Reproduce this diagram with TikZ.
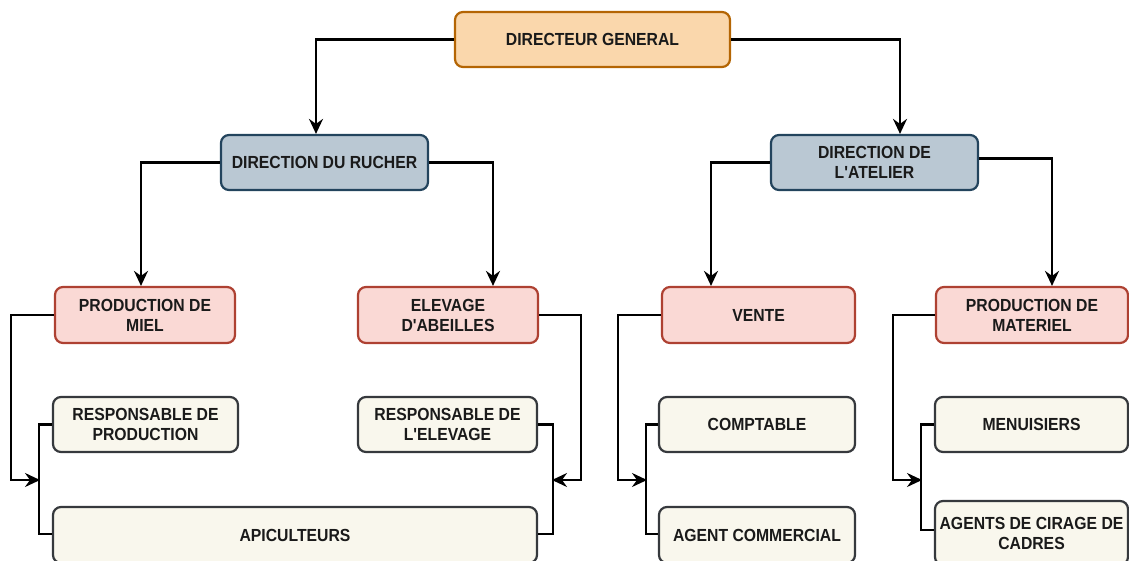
\documentclass[tikz,border=0pt]{standalone}
\usepackage{fontspec}
\setmainfont[FakeStretch=0.9, Ligatures=TeXOff]{Liberation Sans}
\usetikzlibrary{arrows.meta,calc}
\definecolor{dgfill}{HTML}{FAD7AC}\definecolor{dgdraw}{HTML}{B46504}
\definecolor{dirfill}{HTML}{BAC8D3}\definecolor{dirdraw}{HTML}{23445D}
\definecolor{redfill}{HTML}{FAD9D5}\definecolor{reddraw}{HTML}{AE4132}
\definecolor{begfill}{HTML}{F9F7ED}\definecolor{begdraw}{HTML}{36393D}
\definecolor{txt}{HTML}{1A1A1A}
\tikzset{
  box/.style={rounded corners=8pt, line width=2.2pt, align=center, inner sep=0pt,
    minimum height=55pt, text=txt, font=\fontsize{17.5}{20}\selectfont\bfseries},
  dgbox/.style={box, fill=dgfill, draw=dgdraw},
  dirbox/.style={box, fill=dirfill, draw=dirdraw},
  redbox/.style={box, fill=redfill, draw=reddraw},
  begbox/.style={box, fill=begfill, draw=begdraw},
  conn/.style={line width=2.2pt, draw=black, -{Stealth[length=15pt,width=14pt,inset=5pt]}},
  plain/.style={line width=2.2pt, draw=black}
}
\begin{document}
\begin{tikzpicture}[x=1pt,y=-1pt]
\clip (0,0) rectangle (1129,560);
\useasboundingbox (0,0) rectangle (1129,560);
% level 1
\node[dgbox, minimum width=275pt] (dg) at (592.5,39.5) {DIRECTEUR GENERAL};
% level 2
\node[dirbox, minimum width=207pt] (rucher) at (324.5,162.5) {DIRECTION DU RUCHER};
\node[dirbox, minimum width=207pt] (atelier) at (874.5,162.5) {DIRECTION DE\\L'ATELIER};
% level 3
\node[redbox, minimum width=180pt, minimum height=56pt] (miel) at (145,315) {PRODUCTION DE\\MIEL};
\node[redbox, minimum width=180pt, minimum height=56pt] (elevage) at (448,315) {ELEVAGE\\D'ABEILLES};
\node[redbox, minimum width=193pt, minimum height=56pt] (vente) at (758.5,315) {VENTE};
\node[redbox, minimum width=192pt, minimum height=56pt] (materiel) at (1032,315) {PRODUCTION DE\\MATERIEL};
% level 4
\node[begbox, minimum width=185pt] (resprod) at (145.5,424.5) {RESPONSABLE DE\\PRODUCTION};
\node[begbox, minimum width=179pt] (respelev) at (447.5,424.5) {RESPONSABLE DE\\L'ELEVAGE};
\node[begbox, minimum width=196pt] (comptable) at (757,424.5) {COMPTABLE};
\node[begbox, minimum width=193pt] (menuisiers) at (1031.5,424.5) {MENUISIERS};
% level 5
\node[begbox, minimum width=484pt, minimum height=56pt] (apic) at (295,535) {APICULTEURS};
\node[begbox, minimum width=196pt, minimum height=56pt] (agentcom) at (757,535) {AGENT COMMERCIAL};
\node[begbox, minimum width=193pt, minimum height=64pt] (cirage) at (1031.5,533) {AGENTS DE CIRAGE DE\\CADRES};
% arrow targets on brackets
\coordinate (b1) at (40,480);
\coordinate (b2) at (552,480);
\coordinate (b3) at (647,480);
\coordinate (b4) at (922,480);
% connectors level 1 -> 2
\draw[conn] (dg.west) -| ([xshift=-8.5pt]rucher.north);
\draw[conn] (dg.east) -| ([xshift=25.5pt]atelier.north);
% level 2 -> 3
\draw[conn] (rucher.west) -| ([xshift=-4pt]miel.north);
\draw[conn] (rucher.east) -| ([xshift=45pt]elevage.north);
\draw[conn] (atelier.west) -| ([xshift=-47.5pt]vente.north);
\draw[conn] ([yshift=4pt]atelier.east) -| ([xshift=20pt]materiel.north);
% level 3 -> brackets
\draw[conn] (miel.west) -- ++(-43,0) |- (b1);
\draw[conn] (elevage.east) -- ++(42,0) |- (b2);
\draw[conn] (vente.west) -- ++(-43,0) |- (b3);
\draw[conn] (materiel.west) -- ++(-42,0) |- (b4);
% brackets
\draw[plain] (resprod.west) -- ++(-13,0) |- ([yshift=1pt]apic.west);
\draw[plain] (respelev.east) -- ++(15,0) |- ([yshift=1pt]apic.east);
\draw[plain] (comptable.west) -- ++(-12,0) |- ([yshift=1pt]agentcom.west);
\draw[plain] (menuisiers.west) -- ++(-13,0) |- ([yshift=3pt]cirage.west);
\end{tikzpicture}
\end{document}
